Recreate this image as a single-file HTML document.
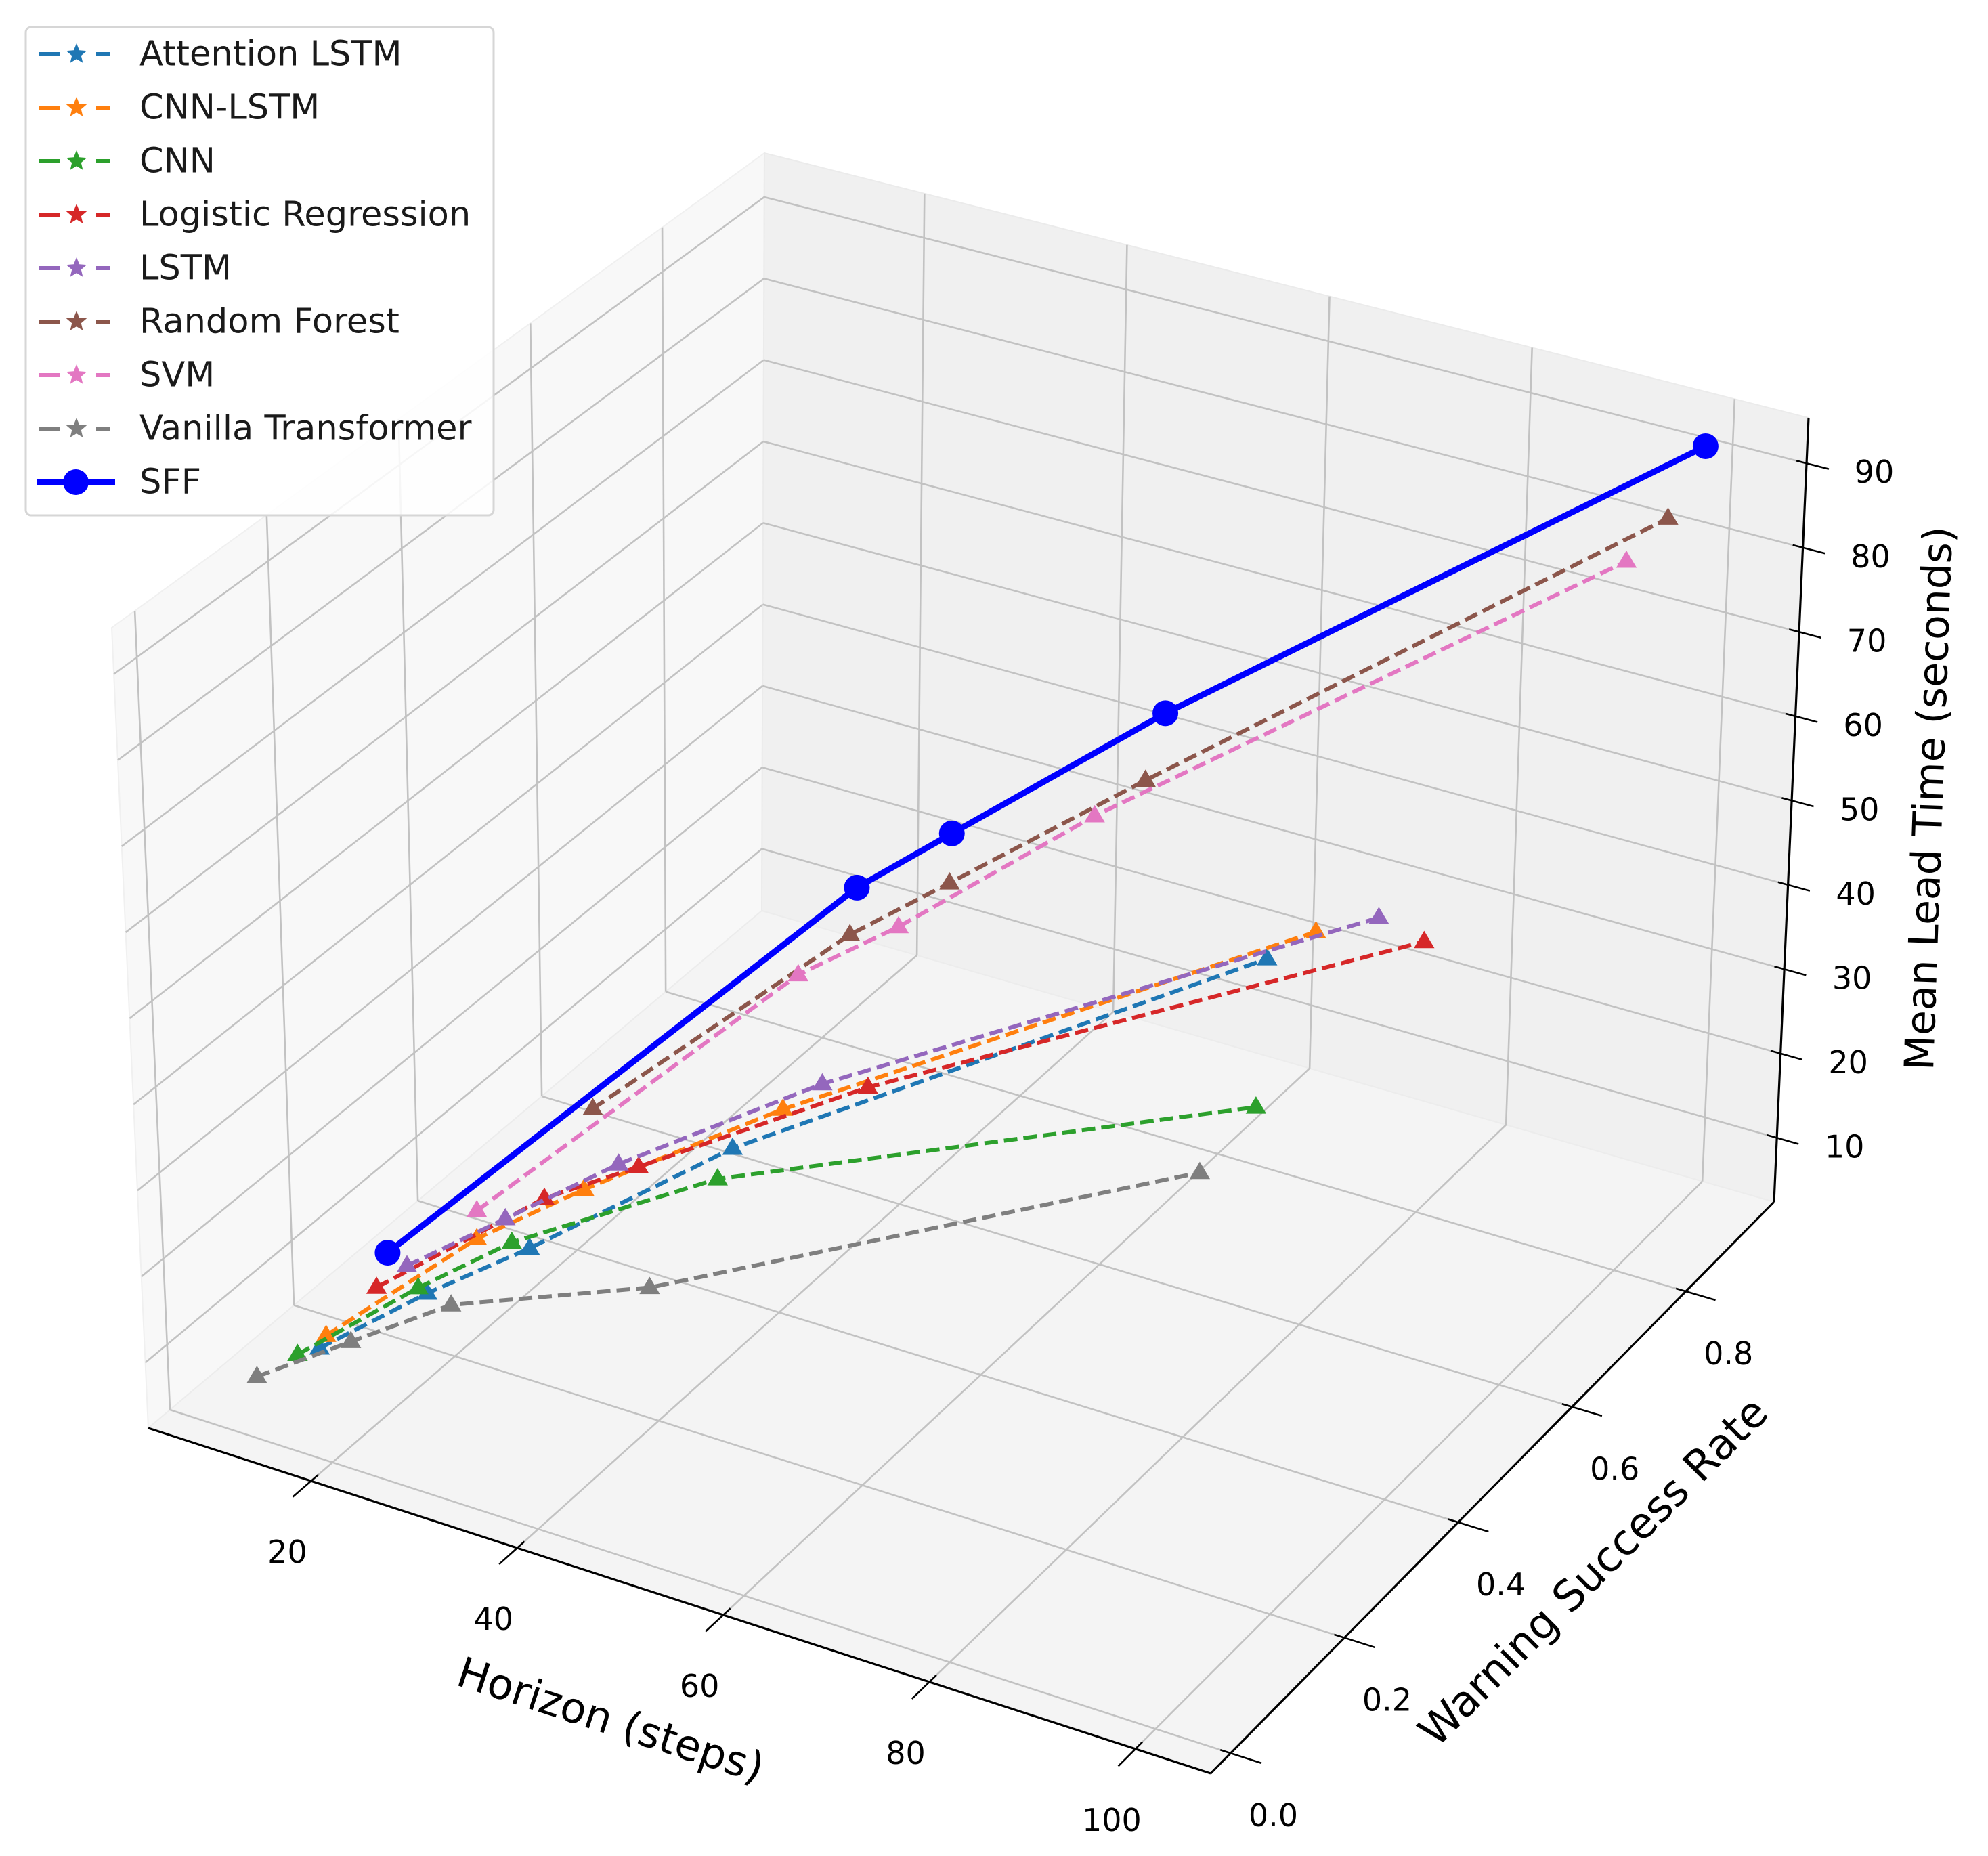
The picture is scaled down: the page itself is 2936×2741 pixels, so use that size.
<!DOCTYPE html>
<html><head><meta charset="utf-8"><style>
html,body{margin:0;padding:0;background:#fff;}
svg{display:block;font-family:"DejaVu Sans","Liberation Sans",sans-serif;}
</style></head><body>
<svg id="chart" width="2936" height="2741" viewBox="0 0 2936 2741" xmlns="http://www.w3.org/2000/svg">
<g id="panes"></g>
<g id="grid"></g>
<g id="axes"></g>
<g id="series"></g>
<g id="legend"></g>
</svg>
<script>
// ---- data ----
const horizons = [10, 20, 30, 50, 100];
const seriesNames = ["Attention LSTM","CNN-LSTM","CNN","Logistic Regression","LSTM","Random Forest","SVM","Vanilla Transformer","SFF"];
const attnRate = [0.146, 0.159, 0.162, 0.163, 0.192];
const attnLead = [2.9, 12.3, 21.1, 40.0, 77.7];
const cnnLstmRate = [0.157, 0.240, 0.251, 0.245, 0.273];
const cnnLstmLead = [3.7, 13.7, 22.5, 39.5, 75.8];
const cnnRate = [0.111, 0.145, 0.134, 0.138, 0.174];
const cnnLead = [4.3, 13.8, 23.5, 38.0, 61.9];
const lrRate = [0.239, 0.349, 0.339, 0.383, 0.455];
const lrLead = [4.3, 11.7, 19.7, 33.5, 63.3];
const lstmRate = [0.288, 0.286, 0.307, 0.309, 0.378];
const lstmLead = [3.8, 13.2, 22.0, 38.5, 70.9];
const rfRate = [0.589, 0.845, 0.845, 0.836, 0.850];
const rfLead = [3.7, 12.0, 21.7, 41.4, 87.9];
const svmRate = [0.401, 0.761, 0.762, 0.753, 0.782];
const svmLead = [3.3, 12.5, 21.7, 42.4, 87.1];
const vtRate = [0.046, 0.036, 0.035, 0.025, 0.080];
const vtLead = [5.7, 14.2, 22.3, 32.4, 60.3];
const sffRate = [0.258, 0.856, 0.848, 0.867, 0.909];
const sffLead = [7.2, 17.0, 27.5, 47.5, 92.7];
const xTicks = [20, 40, 60, 80, 100];
const yTicks = [0.0, 0.2, 0.4, 0.6, 0.8];
const zTicks = [10, 20, 30, 40, 50, 60, 70, 80, 90];

// ---- projection (calibrated box) ----
const XR=[4.2,107.3], YR=[-0.035,0.955], ZR=[2.4,95.4];
const cA=[219,2109], cB=[1788,2619], cC=[2620,1775], cD=[1125,1345];
const vA=[-54,-1182], vB=[-7,-1221], vC=[51,-1158], vD=[4,-1119];
function bil(p,q,r,s,u,v,i){return p[i]*(1-u)*(1-v)+q[i]*u*(1-v)+s[i]*(1-u)*v+r[i]*u*v;}
function P(x,y,z){
  const u=(x-XR[0])/(XR[1]-XR[0]), v=(y-YR[0])/(YR[1]-YR[0]), w=(z-ZR[0])/(ZR[1]-ZR[0]);
  return [bil(cA,cB,cC,cD,u,v,0)+w*bil(vA,vB,vC,vD,u,v,0), bil(cA,cB,cC,cD,u,v,1)+w*bil(vA,vB,vC,vD,u,v,1)];
}
const NS="http://www.w3.org/2000/svg";
function mk(tag,attrs,parent){const e=document.createElementNS(NS,tag);for(const k in attrs)e.setAttribute(k,attrs[k]);parent.appendChild(e);return e;}
function pts(a){return a.map(p=>p[0].toFixed(1)+","+p[1].toFixed(1)).join(" ");}

const gP=document.getElementById('panes'), gG=document.getElementById('grid'), gA=document.getElementById('axes'), gS=document.getElementById('series'), gL=document.getElementById('legend');
const [x0,x1]=XR,[y0,y1]=YR,[z0,z1]=ZR;

// panes
let pn=mk('polygon',{points:pts([P(x0,y0,z0),P(x0,y1,z0),P(x0,y1,z1),P(x0,y0,z1)]),fill:'#f8f8f8',stroke:'#f0f0f0','stroke-width':2},gP);


pn=mk('polygon',{points:pts([P(x0,y1,z0),P(x1,y1,z0),P(x1,y1,z1),P(x0,y1,z1)]),fill:'#f0f0f0',stroke:'#ebebeb','stroke-width':2},gP);


pn=mk('polygon',{points:pts([P(x0,y0,z0),P(x1,y0,z0),P(x1,y1,z0),P(x0,y1,z0)]),fill:'#f4f4f4',stroke:'#ececec','stroke-width':2},gP);



// grid
function gl(a,b){const l=mk('line',{x1:a[0],y1:a[1],x2:b[0],y2:b[1],stroke:'#c2c2c2','stroke-width':2.6},gG);

}
xTicks.forEach(x=>{gl(P(x,y0,z0),P(x,y1,z0));gl(P(x,y1,z0),P(x,y1,z1));});
yTicks.forEach(y=>{gl(P(x0,y,z0),P(x1,y,z0));gl(P(x0,y,z0),P(x0,y,z1));});
zTicks.forEach(z=>{gl(P(x0,y0,z),P(x0,y1,z));gl(P(x0,y1,z),P(x1,y1,z));});

// axis lines
function al(a,b,name){const l=mk('line',{x1:a[0],y1:a[1],x2:b[0],y2:b[1],stroke:'#000','stroke-width':3.2},gA);

}
al(P(x0,y0,z0),P(x1,y0,z0),'x-axis-line');
al(P(x1,y0,z0),P(x1,y1,z0),'y-axis-line');
al(P(x1,y1,z0),P(x1,y1,z1),'z-axis-line');
function tl(a,b){const l=mk('line',{x1:a[0],y1:a[1],x2:b[0],y2:b[1],stroke:'#000','stroke-width':2.6},gA);

}
function txt(p,s,size,name,rot){const t=mk('text',{x:p[0],y:p[1],'font-size':size,'text-anchor':'middle','dominant-baseline':'central',fill:'#000'},gA);
if(rot)t.setAttribute('transform','rotate('+rot+' '+p[0]+' '+p[1]+')');
t.textContent=s;

}
xTicks.forEach(x=>{tl(P(x,y0+0.012,z0),P(x,y0-0.03,z0));const p=P(x,y0,z0);txt([p[0]-35,p[1]+105],String(x),46,'x-tick-label');});
yTicks.forEach(y=>{tl(P(x1-1,y,z0),P(x1+3,y,z0));const p=P(x1,y,z0);txt([p[0]+63,p[1]+92],y.toFixed(1),46,'y-tick-label');});
zTicks.forEach(z=>{tl(P(x1-1,y1,z),P(x1+2.2,y1,z));const p=P(x1,y1,z);txt([p[0]+100,p[1]+13],String(z),46,'z-tick-label');});
txt([902,2540],'Horizon (steps)',62,'x-axis-title',18);
txt([2353,2321],'Warning Success Rate',63,'y-axis-title',-45);
txt([2849,1179],'Mean Lead Time (seconds)',60,'z-axis-title',-88);

// series
const colors=['#1f77b4','#ff7f0e','#2ca02c','#d62728','#9467bd','#8c564b','#e377c2','#7f7f7f','#0000ff'];
const rates=[attnRate,cnnLstmRate,cnnRate,lrRate,lstmRate,rfRate,svmRate,vtRate,sffRate];
const leads=[attnLead,cnnLstmLead,cnnLead,lrLead,lstmLead,rfLead,svmLead,vtLead,sffLead];
function tri(p,s){return pts([[p[0],p[1]-s],[p[0]-s*0.95,p[1]+s*0.6],[p[0]+s*0.95,p[1]+s*0.6]]);}
rates.forEach((r,i)=>{
  const g=mk('g',{},gS);
  
  
  const ps=horizons.map((h,j)=>P(h,r[j],leads[i][j]));
  const sff=i===8;
  const line=mk('polyline',{points:pts(ps),fill:'none',stroke:colors[i],'stroke-width':sff?9:6,'stroke-dasharray':sff?'none':'20,9','stroke-linejoin':'round'},g);
  
  
  ps.forEach(p=>{
    let m;
    if(sff){m=mk('circle',{cx:p[0],cy:p[1],r:19,fill:colors[i]},g);}
    else{m=mk('polygon',{points:tri(p,16),fill:colors[i]},g);}
    
    
  });
});

// legend
const lb=mk('rect',{x:38,y:40,width:691,height:721,rx:8,fill:'#fff','fill-opacity':0.85,stroke:'#d6d6d6','stroke-width':3},gL);


function star(cx,cy,R){const a=[];for(let k=0;k<10;k++){const rr=k%2?R*0.45:R;const ang=-Math.PI/2+k*Math.PI/5;a.push([cx+rr*Math.cos(ang),cy+rr*Math.sin(ang)]);}return pts(a);}
seriesNames.forEach((n,i)=>{
  const y=80+i*79;
  const g=mk('g',{},gL);
  
  
  if(i===8){
    mk('line',{x1:54,y1:y,x2:170,y2:y,stroke:colors[i],'stroke-width':9},g);
    mk('circle',{cx:112,cy:y,r:19,fill:colors[i]},g);
  } else {
    mk('line',{x1:58,y1:y,x2:88,y2:y,stroke:colors[i],'stroke-width':6},g);
    mk('line',{x1:142,y1:y,x2:162,y2:y,stroke:colors[i],'stroke-width':6},g);
    mk('polygon',{points:star(113,y,16),fill:colors[i]},g);
  }
  const t=mk('text',{x:206,y:y,'font-size':51,'dominant-baseline':'central',fill:'#1a1a1a'},g);
  t.textContent=n;
  
  
});
</script>
</body></html>
